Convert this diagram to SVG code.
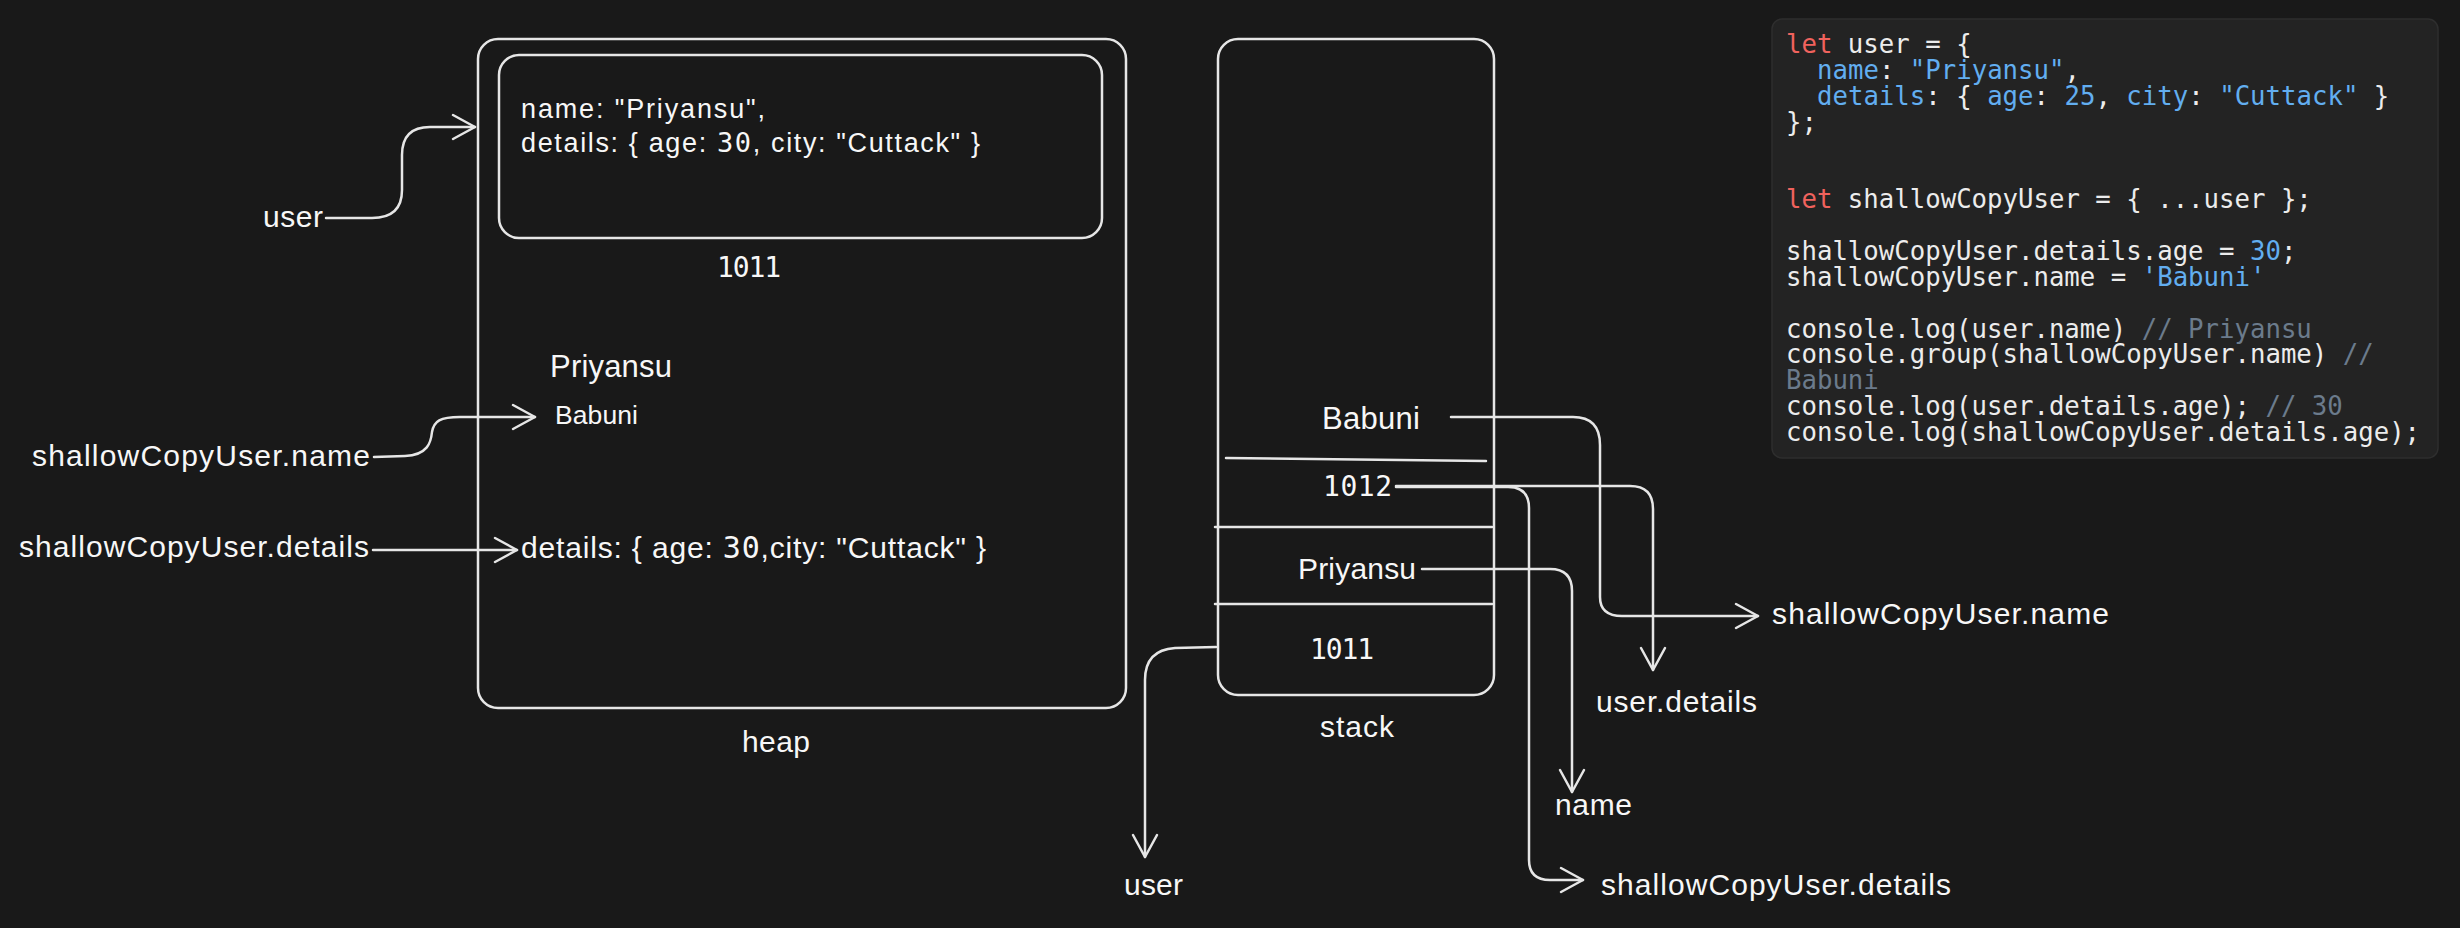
<svg xmlns="http://www.w3.org/2000/svg" width="2460" height="928" viewBox="0 0 2460 928">
<defs>
<style>
.box{fill:none;stroke:#e6e6e6;stroke-width:2.5}
.conn{fill:none;stroke:#e6e6e6;stroke-width:2.5;stroke-linecap:round;stroke-linejoin:round}
.lbl{font-family:"Liberation Sans",Arial,sans-serif;fill:#f7f7f7}
.num{font-family:"DejaVu Sans Mono",monospace;fill:#f7f7f7}
.code{font-family:"DejaVu Sans Mono",monospace;font-size:25.7px;fill:#ececec}
.kw{fill:#f0625d}
.pr{fill:#62aef0}
.cm{fill:#6b7b8c}
</style>
<marker id="ah" markerUnits="userSpaceOnUse" markerWidth="30" markerHeight="30" viewBox="0 0 30 30" refX="26" refY="15" orient="auto">
<path d="M 4 3 L 26 15 L 4 27" fill="none" stroke="#e6e6e6" stroke-width="2.5" stroke-linecap="round" stroke-linejoin="round"/>
</marker>
</defs>
<rect x="0" y="0" width="2460" height="928" fill="#191919"/>

<g id="heap">
<rect class="box" x="478" y="39" width="648" height="669" rx="20"/>
<text class="lbl" x="742" y="752" font-size="30" textLength="68">heap</text>
</g>

<g id="user-object">
<rect class="box" x="499" y="55" width="603" height="183" rx="20"/>
<text class="lbl" x="521" y="118" font-size="27" textLength="244">name: "Priyansu",</text>
<text class="lbl" x="521" y="152" font-size="27" textLength="459">details: { age: <tspan class="num">30</tspan>, city: "Cuttack" }</text>
<text class="num" x="717" y="277" font-size="28" textLength="64">1011</text>
</g>

<g id="heap-priyansu">
<text class="lbl" x="550" y="377" font-size="31" textLength="122">Priyansu</text>
</g>
<g id="heap-babuni">
<text class="lbl" x="555" y="424" font-size="26.5" textLength="83">Babuni</text>
</g>
<g id="heap-details">
<text class="lbl" x="521" y="558" font-size="30" textLength="465">details: { age: <tspan class="num">30</tspan>,city: "Cuttack" }</text>
</g>

<g id="label-user-left">
<text class="lbl" x="263" y="227" font-size="30" textLength="60">user</text>
</g>
<g id="label-scu-name-left">
<text class="lbl" x="32" y="466" font-size="30" textLength="338">shallowCopyUser.name</text>
</g>
<g id="label-scu-details-left">
<text class="lbl" x="19" y="557" font-size="30" textLength="350">shallowCopyUser.details</text>
</g>

<g id="stack">
<rect class="box" x="1218" y="39" width="276" height="656" rx="20"/>
<path class="conn" d="M 1226 458 L 1486 461"/>
<path class="conn" d="M 1215 527 L 1492 527"/>
<path class="conn" d="M 1215 604 L 1492 604"/>
<text class="lbl" x="1322" y="429" font-size="31" textLength="98">Babuni</text>
<text class="num" x="1323" y="496" font-size="28" textLength="69">1012</text>
<text class="lbl" x="1298" y="579" font-size="30" textLength="118">Priyansu</text>
<text class="num" x="1310" y="659" font-size="28" textLength="64">1011</text>
<text class="lbl" x="1320" y="737" font-size="30" textLength="74">stack</text>
</g>

<g id="label-scu-name-right">
<text class="lbl" x="1772" y="624" font-size="30" textLength="337">shallowCopyUser.name</text>
</g>
<g id="label-user-details">
<text class="lbl" x="1596" y="712" font-size="30" textLength="161">user.details</text>
</g>
<g id="label-name">
<text class="lbl" x="1555" y="815" font-size="30" textLength="77">name</text>
</g>
<g id="label-scu-details-right">
<text class="lbl" x="1601" y="895" font-size="30" textLength="350">shallowCopyUser.details</text>
</g>
<g id="label-user-bottom">
<text class="lbl" x="1124" y="895" font-size="30" textLength="59">user</text>
</g>

<g id="connectors">
<path class="conn" marker-end="url(#ah)" d="M 326 218 L 372 218 Q 402 218 402 190 L 402 155 Q 402 127 430 127 L 475 127"/>
<path class="conn" marker-end="url(#ah)" d="M 374 457 L 405 456 C 428 455 431 442 432 432 C 434 421 440 417 460 417 L 535 417"/>
<path class="conn" marker-end="url(#ah)" d="M 373 550 L 517 550"/>
<path class="conn" marker-end="url(#ah)" d="M 1451 417 L 1573 417 Q 1600 417 1600 445 L 1600 597 Q 1600 616 1622 616 L 1758 616"/>
<path class="conn" marker-end="url(#ah)" d="M 1396 486 L 1630 486 Q 1653 486 1653 509 L 1653 670"/>
<path class="conn" marker-end="url(#ah)" d="M 1396 487 L 1508 487 Q 1529 487 1529 508 L 1529 860 Q 1529 880 1550 880 L 1583 880"/>
<path class="conn" marker-end="url(#ah)" d="M 1422 569 L 1550 569 Q 1572 569 1572 591 L 1572 792"/>
<path class="conn" marker-end="url(#ah)" d="M 1216 647 L 1175 648 Q 1145 650 1145 680 L 1145 857"/>
</g>

<g id="code-panel">
<rect x="1772" y="19" width="666" height="439" rx="10" fill="#232323" stroke="#2e2e2e" stroke-width="1.5"/>
<text class="code" x="1786" y="53.3"><tspan class="kw">let</tspan> user = {</text>
<text class="code" x="1817" y="79.1"><tspan class="pr">name</tspan>: <tspan class="pr">"Priyansu"</tspan>,</text>
<text class="code" x="1817" y="105"><tspan class="pr">details</tspan>: { <tspan class="pr">age</tspan>: <tspan class="pr">25</tspan>, <tspan class="pr">city</tspan>: <tspan class="pr">"Cuttack"</tspan> }</text>
<text class="code" x="1786" y="130.8">};</text>
<text class="code" x="1786" y="208.3"><tspan class="kw">let</tspan> shallowCopyUser = { ...user };</text>
<text class="code" x="1786" y="260">shallowCopyUser.details.age = <tspan class="pr">30</tspan>;</text>
<text class="code" x="1786" y="285.8">shallowCopyUser.name = <tspan class="pr">'Babuni'</tspan></text>
<text class="code" x="1786" y="337.6">console.log(user.name) <tspan class="cm">// Priyansu</tspan></text>
<text class="code" x="1786" y="363.4">console.group(shallowCopyUser.name) <tspan class="cm">//</tspan></text>
<text class="code" x="1786" y="389.2"><tspan class="cm">Babuni</tspan></text>
<text class="code" x="1786" y="415">console.log(user.details.age); <tspan class="cm">// 30</tspan></text>
<text class="code" x="1786" y="440.8">console.log(shallowCopyUser.details.age);</text>
</g>
</svg>
